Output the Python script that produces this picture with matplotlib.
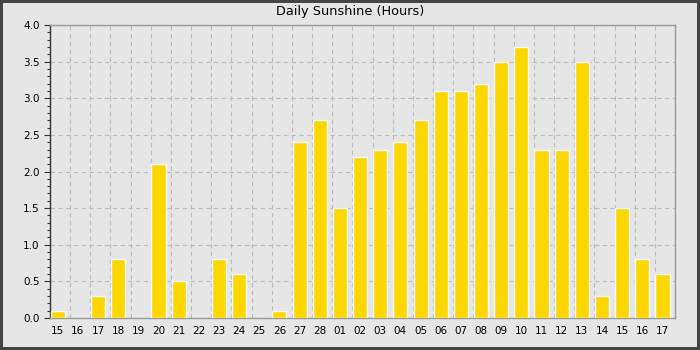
import numpy as np
import matplotlib
matplotlib.use('Agg')
import matplotlib.pyplot as plt
from matplotlib.ticker import MultipleLocator, FixedLocator

# ── Data ───────────────────────────────────────────────────────────────────
DAYS = ["15", "16", "17", "18", "19", "20", "21", "22", "23", "24", "25", "26",
        "27", "28", "01", "02", "03", "04", "05", "06", "07", "08", "09", "10",
        "11", "12", "13", "14", "15", "16", "17"]
SUNSHINE = [0.1, 0.0, 0.3, 0.8, 0.0, 2.1, 0.5, 0.0, 0.8, 0.6, 0.0, 0.1,
            2.4, 2.7, 1.5, 2.2, 2.3, 2.4, 2.7, 3.1, 3.1, 3.2, 3.5, 3.7,
            2.3, 2.3, 3.5, 0.3, 1.5, 0.8, 0.6]

BG = "#e6e6e6"
BAR = "#ffd700"

fig = plt.figure(figsize=(7, 3.5), dpi=100, facecolor=BG,
                 edgecolor="#444444", linewidth=4)
ax = fig.add_axes([50/700, 32/350, 625/700, 293/350])
ax.set_facecolor(BG)

x = np.arange(len(DAYS))
ax.bar(x + 0.03, SUNSHINE, width=0.7, align="edge", color=BAR,
       edgecolor="#f4f8ff", linewidth=1, zorder=3)

ax.set_xlim(0, len(DAYS))
ax.set_ylim(0, 4.0)
ax.set_xticks(x + 0.38)
ax.set_xticklabels(DAYS, fontsize=7.5)
ax.xaxis.set_minor_locator(FixedLocator(np.arange(1, len(DAYS))))
ax.tick_params(axis="x", which="both", length=0, pad=6)

ax.yaxis.set_major_locator(MultipleLocator(0.5))
ax.yaxis.set_minor_locator(MultipleLocator(0.1))
ax.set_yticklabels([f"{v:.1f}" for v in ax.get_yticks()], fontsize=7.5)
ax.tick_params(axis="y", which="major", length=4, width=0.8, color="#333333")
ax.tick_params(axis="y", which="minor", length=2, width=0.8, color="#333333")

ax.grid(True, axis="y", which="major", linestyle=(0, (4, 3)), color="#bbbbbb", linewidth=0.8, zorder=0)
ax.grid(True, axis="x", which="minor", linestyle=(0, (4, 3)), color="#bbbbbb", linewidth=0.8, zorder=0)
ax.set_axisbelow(True)

for side in ["top", "right", "bottom"]:
    ax.spines[side].set_color("#999999")
ax.spines["left"].set_color("#333333")
for s in ax.spines.values():
    s.set_linewidth(1)

fig.text(0.5, 338/350, "Daily Sunshine (Hours)", ha="center", va="center", fontsize=9.3)

fig.savefig("out.png", dpi=100, facecolor=BG, edgecolor="#444444")
